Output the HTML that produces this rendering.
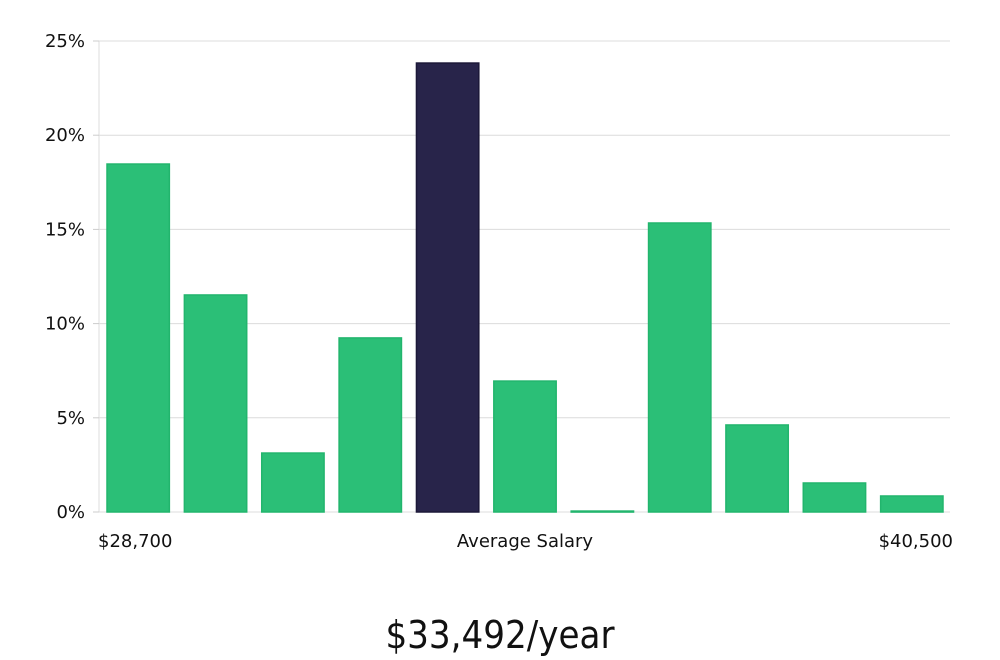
<!DOCTYPE html>
<html><head><meta charset="utf-8"><style>
html,body{margin:0;padding:0;background:#fff;width:1000px;height:660px;overflow:hidden}
svg text{font-family:"DejaVu Sans","Liberation Sans",sans-serif;fill:#111}
</style></head><body>
<svg id="chart" width="1000" height="660" xmlns="http://www.w3.org/2000/svg">
<g id="grid"></g>
<g id="yaxis"></g>
<g id="bars"></g>
<text x="98" y="547" font-size="18">$28,700</text>
<text x="525" y="547" font-size="18" text-anchor="middle">Average Salary</text>
<text x="953" y="547" font-size="18" text-anchor="end">$40,500</text>
<text x="500" y="648" font-size="38" text-anchor="middle" style="font-family:'Liberation Sans Narrow','DejaVu Sans Condensed','Liberation Sans',sans-serif;font-stretch:condensed">$33,492/year</text>
</svg>
<script>
const values = [18.47, 11.52, 3.13, 9.24, 23.83, 6.95, 0.05, 15.34, 4.62, 1.54, 0.85];
const highlightIndex = [4];
const yTicks = [0, 5, 10, 15, 20, 25];
const yTickLabels = ["0%", "5%", "10%", "15%", "20%", "25%"];
const NS = "http://www.w3.org/2000/svg";
const x0 = 99, x1 = 950, yBase = 512, yTop = 41, yMax = 25;
const y = v => yBase - v / yMax * (yBase - yTop);
const band = (x1 - x0) / values.length;
const grid = document.getElementById('grid');
const yaxis = document.getElementById('yaxis');
const bars = document.getElementById('bars');
function mk(tag, attrs){const e=document.createElementNS(NS,tag);for(const k in attrs)e.setAttribute(k,attrs[k]);return e;}
const axisLine = mk('line',{x1:x0,y1:yTop,x2:x0,y2:yBase,stroke:'#ddd','stroke-width':1});


yaxis.appendChild(axisLine);
yTicks.forEach((t,i)=>{
  const yy = y(t);
  const gl = mk('line',{x1:x0,y1:yy,x2:x1,y2:yy,stroke:'#dcdcdc','stroke-width':1});
  
  
  grid.appendChild(gl);
  const tk = mk('line',{x1:x0-6,y1:yy,x2:x0,y2:yy,stroke:'#ccc','stroke-width':1});
  
  
  yaxis.appendChild(tk);
  const tx = mk('text',{x:85,y:yy+6,'font-size':18,'text-anchor':'end'});
  tx.textContent = yTickLabels[i];
  
  
  yaxis.appendChild(tx);
});
values.forEach((v,i)=>{
  const hi = highlightIndex.includes(i);
  const bx = x0 + i*band + 8;
  const by = y(v);
  const r = mk('rect',{x:bx,y:by,width:band-15,height:Math.max(yBase-by,1),
    fill:hi?'#28244a':'#2bbf77',stroke:hi?'#1c1838':'#22b56d','stroke-width':1.5});
  
  
  bars.appendChild(r);
});
</script>
</body></html>
